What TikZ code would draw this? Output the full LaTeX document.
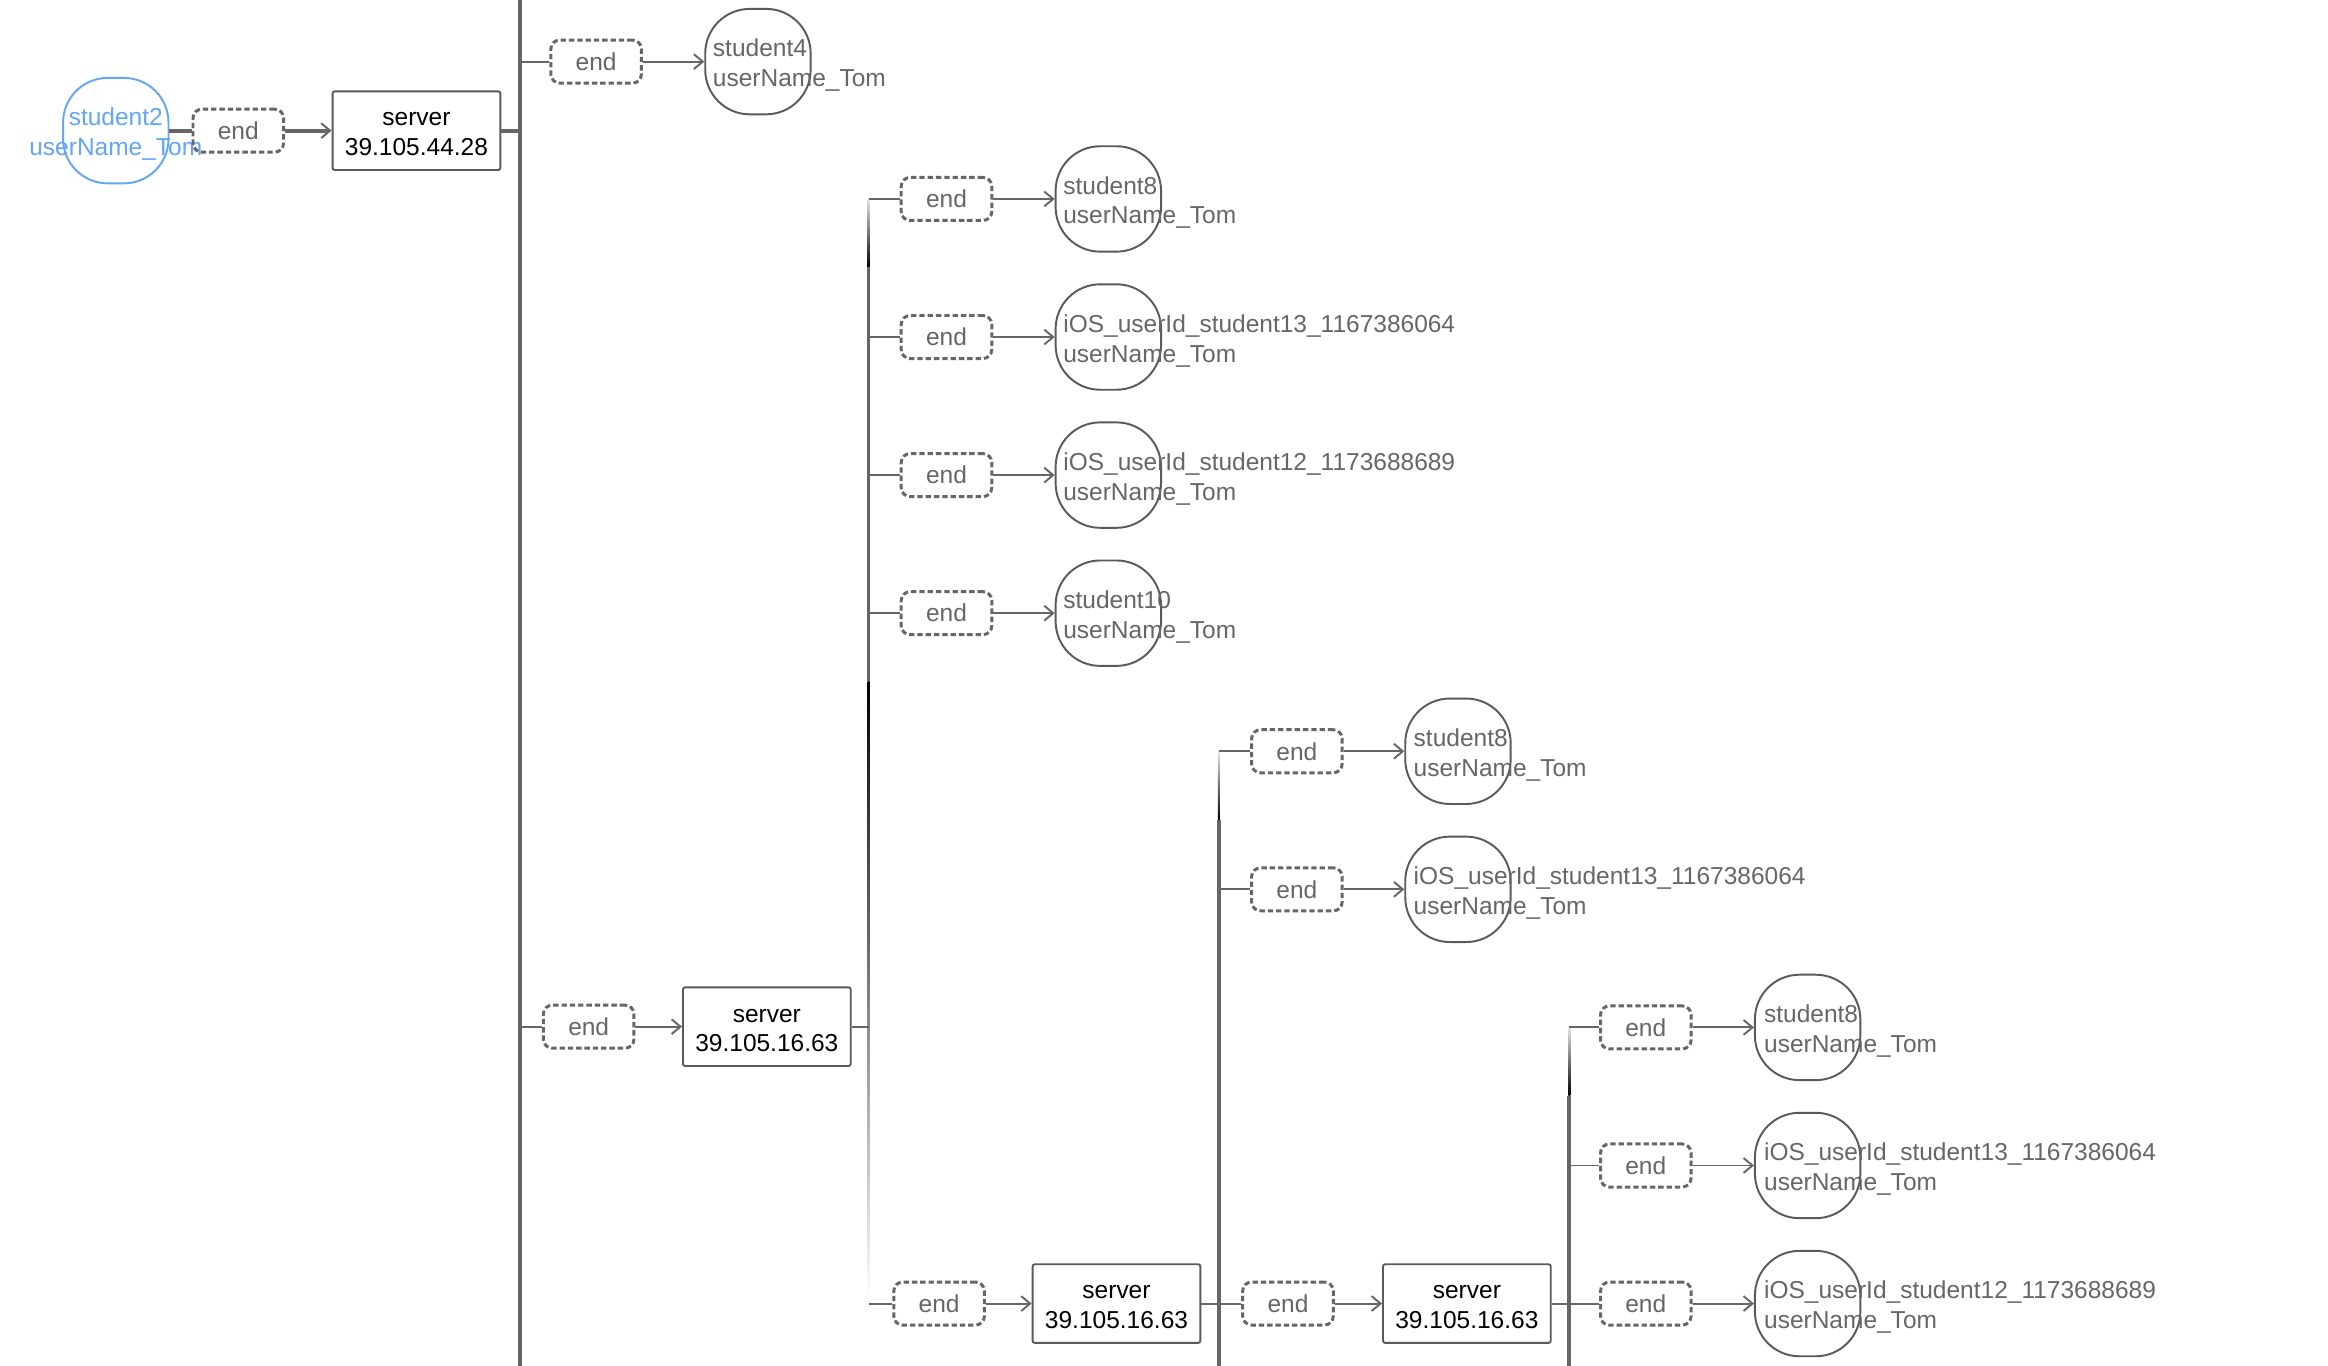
\documentclass[tikz,border=0pt]{standalone}
\usepackage{fontspec}
\setmainfont{Liberation Sans}
\usetikzlibrary{arrows.meta}
\definecolor{ln}{HTML}{666666}
\definecolor{bd}{HTML}{5A5A5A}
\definecolor{tx}{HTML}{666666}
\definecolor{bl}{RGB}{100,165,245}
\begin{document}
\begin{tikzpicture}[x=1pt,y=-1pt,
  font=\fontsize{16.5}{20}\selectfont,
  endbox/.style={draw=ln, dash pattern=on 3.6pt off 2pt, line width=2pt, rounded corners=6pt,
    minimum width=61pt, minimum height=29pt, inner sep=0pt, text=tx},
  srvbox/.style={draw=bd, line width=1.3pt, rounded corners=1.5pt, minimum width=113pt,
    minimum height=53pt, inner sep=0pt},
  srvtxt/.style={align=center, inner sep=0pt, text=black},
  usr/.style={draw=bd, line width=1.3pt, rounded corners=30pt, minimum width=71pt,
    minimum height=71pt, inner sep=0pt},
  lbl/.style={anchor=west, align=left, text=tx, inner sep=0pt},
  conn/.style={draw=ln, line width=1.3pt},
  thk/.style={draw=ln, line width=2.5pt},
  arr/.style={-{Straight Barb[length=6pt,width=10pt,line width=1.3pt]}},
]
\useasboundingbox[fill=white] (0,0) rectangle (1568,920);

% ---------- root ----------
\node[usr, draw=bl] (s2) at (78,88) {};
\node[align=center, text=bl, inner sep=0pt] (s2t) at (78,90.5) {student2\\userName\_Tom};
\node[endbox] (e0) at (160.5,88) {end};
\node[srvbox] (srv0) at (280.5,88) {};
\node[srvtxt] (srv0t) at (280.5,90.5) {server\\39.105.44.28};
\draw[thk] (s2.east) -- (e0.west);
\draw[thk,arr] (e0.east) -- (srv0.west);

% bus 1
\coordinate (b1t) at (350,0);
\coordinate (b1b) at (350,920);
\draw[thk] (b1t) -- (b1b);
\draw[thk] (srv0.east) -- (srv0.east -| b1t);

% branch student4
\node[endbox] (e1) at (401.5,41.5) {end};
\node[usr] (n1) at (510.5,41.5) {};
\node[lbl] (n1t) at (480,44) {student4\\userName\_Tom};
\draw[conn] (e1.west -| b1t) -- (e1.west);
\draw[conn,arr] (e1.east) -- (n1.west);

% branch server 1
\node[endbox] (e2) at (396.5,691.5) {end};
\node[srvbox] (srv1) at (516.5,691.5) {};
\node[srvtxt] (srv1t) at (516.5,694) {server\\39.105.16.63};
\draw[conn] (e2.west -| b1t) -- (e2.west);
\draw[conn,arr] (e2.east) -- (srv1.west);

% ---------- bus 2 ----------
\coordinate (b2a) at (585,134);
\coordinate (b2b) at (585,180);
\coordinate (b2c) at (585,459);
\coordinate (b2d) at (585,878);
\shade[top color=gray!20, bottom color=black] ([xshift=-0.65pt]b2a) rectangle ([xshift=0.65pt]b2b);
\draw[thk] (b2b) -- (b2c);
\shade[top color=black, bottom color=white] ([xshift=-0.65pt]b2c) rectangle ([xshift=0.65pt]b2d);
\draw[conn] (srv1.east) -- (srv1.east -| b2a);

\node[endbox] (e3) at (637.5,134) {end};
\node[endbox] (e4) at (637.5,227) {end};
\node[endbox] (e5) at (637.5,320) {end};
\node[endbox] (e6) at (637.5,413) {end};
\node[usr] (n3) at (746.5,134) {};
\node[usr] (n4) at (746.5,227) {};
\node[usr] (n5) at (746.5,320) {};
\node[usr] (n6) at (746.5,413) {};
\node[lbl] (n3t) at (716,136.5) {student8\\userName\_Tom};
\node[lbl] (n4t) at (716,229.5) {iOS\_userId\_student13\_1167386064\\userName\_Tom};
\node[lbl] (n5t) at (716,322.5) {iOS\_userId\_student12\_1173688689\\userName\_Tom};
\node[lbl] (n6t) at (716,415.5) {student10\\userName\_Tom};
\foreach \i in {3,4,5,6}{
  \draw[conn] (e\i.west -| b2a) -- (e\i.west);
  \draw[conn,arr] (e\i.east) -- (n\i.west);
}

\node[endbox] (e7) at (632.5,878) {end};
\node[srvbox] (srv2) at (752,878) {};
\node[srvtxt] (srv2t) at (752,880.5) {server\\39.105.16.63};
\draw[conn] (e7.west -| b2a) -- (e7.west);
\draw[conn,arr] (e7.east) -- (srv2.west);

% ---------- bus 3 ----------
\coordinate (b3a) at (821,506);
\coordinate (b3b) at (821,552);
\coordinate (b3c) at (821,920);
\shade[top color=gray!20, bottom color=black] ([xshift=-0.65pt]b3a) rectangle ([xshift=0.65pt]b3b);
\draw[thk] (b3b) -- (b3c);

\node[endbox] (e8) at (873.5,506) {end};
\node[endbox] (e9) at (873.5,599) {end};
\node[usr] (n8) at (982,506) {};
\node[usr] (n9) at (982,599) {};
\node[lbl] (n8t) at (952,508.5) {student8\\userName\_Tom};
\node[lbl] (n9t) at (952,601.5) {iOS\_userId\_student13\_1167386064\\userName\_Tom};
\foreach \i in {8,9}{
  \draw[conn] (e\i.west -| b3a) -- (e\i.west);
  \draw[conn,arr] (e\i.east) -- (n\i.west);
}

\node[endbox] (e10) at (867.5,878) {end};
\node[srvbox] (srv3) at (988,878) {};
\node[srvtxt] (srv3t) at (988,880.5) {server\\39.105.16.63};
\draw[conn] (srv2.east) -- (e10.west);
\draw[conn,arr] (e10.east) -- (srv3.west);

% ---------- bus 4 ----------
\coordinate (b4a) at (1057,692);
\coordinate (b4b) at (1057,738);
\coordinate (b4c) at (1057,920);
\shade[top color=gray!20, bottom color=black] ([xshift=-0.65pt]b4a) rectangle ([xshift=0.65pt]b4b);
\draw[thk] (b4b) -- (b4c);

\node[endbox] (e11) at (1108.5,692) {end};
\node[endbox] (e12) at (1108.5,785) {end};
\node[endbox] (e13) at (1108.5,878) {end};
\node[usr] (n11) at (1217.5,692) {};
\node[usr] (n12) at (1217.5,785) {};
\node[usr] (n13) at (1217.5,878) {};
\node[lbl] (n11t) at (1188,694.5) {student8\\userName\_Tom};
\node[lbl] (n12t) at (1188,787.5) {iOS\_userId\_student13\_1167386064\\userName\_Tom};
\node[lbl] (n13t) at (1188,880.5) {iOS\_userId\_student12\_1173688689\\userName\_Tom};
\draw[conn] (e11.west -| b4a) -- (e11.west);
\draw[conn] (e12.west -| b4a) -- (e12.west);
\draw[conn] (srv3.east) -- (e13.west);
\foreach \i in {11,12,13}{
  \draw[conn,arr] (e\i.east) -- (n\i.west);
}
\end{tikzpicture}
\end{document}
